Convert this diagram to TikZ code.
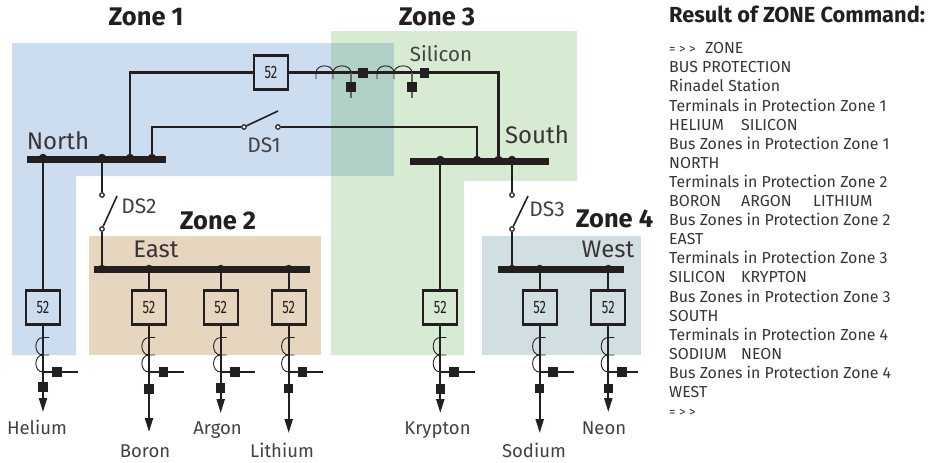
\documentclass[tikz,border=0pt]{standalone}
\usepackage{fontspec}
\setmainfont{Fira Sans}
\usetikzlibrary{arrows.meta}
\definecolor{ink}{HTML}{231F20}
\definecolor{zblue}{HTML}{CBDDEF}
\definecolor{zgreen}{HTML}{D7EAD2}
\definecolor{zover}{HTML}{B0D0C8}
\definecolor{zbrown}{HTML}{E6D6C0}
\definecolor{zgrey}{HTML}{D2DFE2}
\tikzset{
 x=1pt,y=-1pt,
 wire/.style={draw=ink,line width=2.1pt},
 thinwire/.style={draw=ink,line width=1.1pt},
 buswire/.style={draw=ink,line width=7pt},
 brk/.style={draw=ink,line width=2.3pt,minimum size=34pt,inner sep=0pt,font=\fontsize{18}{18}\selectfont,text=ink},
 sq/.style={fill=ink,draw=none,minimum size=9.5pt,inner sep=0pt},
 openpt/.style={circle,draw=ink,fill=white,line width=1.2pt,minimum size=4.5pt,inner sep=0pt},
 jn/.style={circle,fill=ink,draw=none,minimum size=8.5pt,inner sep=0pt},
 lab/.style={text=ink!85,font=\fontsize{18.5}{18.5}\selectfont,inner sep=0pt,anchor=base},
 lablarge/.style={text=ink!90,font=\fontsize{24}{24}\selectfont,inner sep=0pt,anchor=base},
 ttl/.style={text=ink,font=\fontsize{25.5}{25.5}\selectfont\bfseries,inner sep=0pt,anchor=base},
 txt/.style={text=ink!90,font=\fontsize{15.9}{15.9}\selectfont,inner sep=0pt,anchor=base west},
 coilline/.style={draw=ink,line width=0.9pt},
 arrowwire/.style={wire,-{Triangle[length=14pt,width=8pt]},shorten >=0pt},
}
\newcommand{\fiftytwo}{\scalebox{0.72}[1]{52}}
\begin{document}
\begin{tikzpicture}
\useasboundingbox (0,0) rectangle (945,463);
\fill[white] (0,0) rectangle (945,463);
% zones
\fill[zblue] (12,43) -- (394,43) -- (394,176) -- (76,176) -- (76,355) -- (12,355) -- cycle;
\fill[zgreen] (331,31) -- (577,31) -- (577,181) -- (464,181) -- (464,355) -- (331,355) -- cycle;
\fill[zover] (331,43) rectangle (394,176);
\fill[zbrown] (89,236) rectangle (321,355);
\fill[zgrey] (482,236) rectangle (641,355);
% titles
\node[ttl] (tz1) at (146,25) {Zone 1};
\node[ttl] (tz3) at (437,25) {Zone 3};
\node[ttl] (tz2) at (218,229) {Zone 2};
\node[ttl] (tz4) at (614.5,227) {Zone 4};
% buses
\coordinate (nL) at (27,159); \coordinate (nR) at (166,159);
\coordinate (sL) at (410,161); \coordinate (sR) at (549,161);
\coordinate (eL) at (94,269); \coordinate (eR) at (310,269);
\coordinate (wL) at (498,269); \coordinate (wR) at (624,269);
\node[jn] (jN2) at (102,158) {};
\node[jn] (jN3) at (130,158) {};
\node[jn] (jN4) at (152,158) {};
\node[jn] (jS2) at (477,160) {};
\node[jn] (jS3) at (498.5,160) {};
\node[jn] (jS4) at (512,160) {};
\node[jn] (jE1) at (102,269) {};
\node[jn] (jW1) at (512,269) {};
\foreach \a/\b in {nL/nR,sL/sR,eL/eR,wL/wR} \draw[buswire] (\a) -- (\b);
% top breaker and line CT
\node[brk] (bTop) at (271,72.5) {\fiftytwo};
\draw[wire] (jN3) |- (bTop.west);
\node[sq] (sqA) at (363,73) {};
\node[sq] (sqB) at (424.5,73) {};
\draw[wire] (bTop.east) -| (jS3);
\node[sq] (sqC) at (351,87) {};
\node[sq] (sqD) at (412,87) {};
\coordinate (cA) at (351,73); \coordinate (cAe) at (351,98);
\coordinate (cB) at (412,73); \coordinate (cBe) at (412,98);
\draw[wire,draw=ink!70,line width=1.4pt] (cA) -- (sqC) -- (cAe);
\draw[wire,draw=ink!70,line width=1.4pt] (cB) -- (sqD) -- (cBe);
\draw[coilline] (316,79) -- (316,73) .. controls (316,63.5) and (333,63.5) .. (333,73) -- (333,79);
\draw[coilline] (333,73) .. controls (333,63.5) and (351,63.5) .. (351,73);
\draw[coilline] (377,79) -- (377,73) .. controls (377,63.5) and (394,63.5) .. (394,73) -- (394,79);
\draw[coilline] (394,73) .. controls (394,63.5) and (412,63.5) .. (412,73);
% disconnects
\node[openpt] (d1a) at (244,127) {};
\node[openpt] (d1b) at (278,127) {};
\coordinate (d1t) at (278,111);
\draw[thinwire,line width=1.6pt] (d1a) -- (d1t);
\draw[wire,line width=1.8pt] (jN4) |- (d1a);
\draw[wire,line width=1.8pt] (d1b) -| (jS2);
\node[openpt] (d2a) at (102,195) {};
\node[openpt] (d2b) at (102,229) {};
\coordinate (d2t) at (117,196);
\draw[thinwire,line width=1.6pt] (d2b) -- (d2t);
\draw[wire,line width=1.8pt] (jN2) -- (d2a);
\draw[wire,line width=1.8pt] (d2b) -- (jE1);
\node[openpt] (d3a) at (512,195) {};
\node[openpt] (d3b) at (512,229) {};
\coordinate (d3t) at (528,196);
\draw[thinwire,line width=1.6pt] (d3b) -- (d3t);
\draw[wire,line width=1.8pt] (jS4) -- (d3a);
\draw[wire,line width=1.8pt] (d3b) -- (jW1);
% feeders: name/x/bus y/square y/tip y/side square x/side end x/label x/label baseline/text
\foreach \n/\x/\yb/\sy/\ty/\sx/\ex/\lx/\ly/\t in {
 He/43/158/387/412/57/78/37/434/Helium,
 Bo/149/269/389/432/163.5/184/145/457/Boron,
 Ar/220.7/269/388/413/235/255/217.5/434/Argon,
 Li/288.7/269/388.5/433/302.5/323/282/457/Lithium,
 Kr/440.3/160/389/413/454/475/437.5/434/Krypton,
 So/539.7/269/388.5/433/553/574/534/457/Sodium,
 Ne/608.3/269/388.5/412/622/638/604/434/Neon}{
 \node[jn] (j\n) at (\x,\yb) {};
 \node[brk] (b\n) at (\x,307.5) {\fiftytwo};
 \node[sq] (s\n) at (\x,\sy) {};
 \node[sq] (k\n) at (\sx,372) {};
 \coordinate (t\n) at (\x,\ty);
 \coordinate (c\n) at (\x,372);
 \coordinate (e\n) at (\ex,372);
 \draw[wire] (j\n) -- (b\n);
 \draw[wire] (b\n) -- (s\n);
 \draw[arrowwire] (s\n) -- (t\n);
 \draw[thinwire] (c\n) -- (k\n) -- (e\n);
 \draw[coilline] (\x+6,337.5) -- (\x,337.5) .. controls (\x-9.5,337.5) and (\x-9.5,355) .. (\x,355) -- (\x+6,355);
 \draw[coilline] (\x,355) .. controls (\x-9.5,355) and (\x-9.5,372) .. (\x,372);
 \node[lab] (l\n) at (\lx,\ly) {\t};
}
% bus and other labels
\node[lablarge] (lNorth) at (58,149) {North};
\node[lablarge] (lSouth) at (537,143) {South};
\node[lablarge] (lEast) at (156,257) {East};
\node[lablarge] (lWest) at (608,257) {West};
\node[lab,font=\fontsize{20.5}{20.5}\selectfont] (lSil) at (441,61) {Silicon};
\node[lab,font=\fontsize{21}{21}\selectfont] (lD1) at (264,152) {DS1};
\node[lab,font=\fontsize{21}{21}\selectfont] (lD2) at (139,213) {DS2};
\node[lab,font=\fontsize{21}{21}\selectfont] (lD3) at (547,216) {DS3};
% result text
\node[ttl,anchor=base west,font=\fontsize{21.8}{21.8}\selectfont\bfseries] (res) at (669,23) {Result of ZONE Command:};
\newcommand{\tabw}[1]{\makebox[72pt][l]{#1}}
\newcommand{\prompt}{\makebox[36pt][l]{\fontsize{13}{13}\selectfont =\hspace{3.5pt}>\hspace{3.5pt}>}}
\foreach \t [count=\i from 0] in {
 \prompt ZONE,
 BUS PROTECTION,
 Rinadel Station,
 Terminals in Protection Zone 1,
 \tabw{HELIUM}SILICON,
 Bus Zones in Protection Zone 1,
 NORTH,
 Terminals in Protection Zone 2,
 \tabw{BORON}\tabw{ARGON}LITHIUM,
 Bus Zones in Protection Zone 2,
 EAST,
 Terminals in Protection Zone 3,
 \tabw{SILICON}KRYPTON,
 Bus Zones in Protection Zone 3,
 SOUTH,
 Terminals in Protection Zone 4,
 \tabw{SODIUM}NEON,
 Bus Zones in Protection Zone 4,
 WEST,
 \prompt}{
 \node[txt] (r\i) at (669,53.7+19.1*\i) {\t};
}
\end{tikzpicture}
\end{document}
